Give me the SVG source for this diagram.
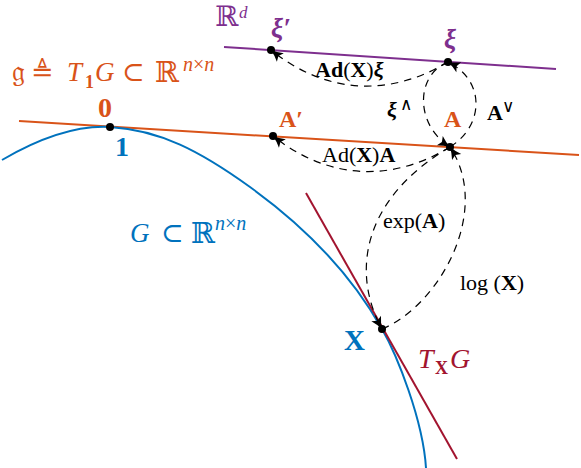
<svg xmlns="http://www.w3.org/2000/svg" width="581" height="468" viewBox="0 0 581 468">
<style>
text{font-family:"Liberation Serif","DejaVu Serif",serif;}
.lbl{font-size:22px;fill:#000;}
.b{font-weight:bold;}
.i{font-style:italic;}
.bi{font-weight:bold;font-style:italic;}
.dash{fill:none;stroke:#000;stroke-width:1.2;stroke-dasharray:7.5 6;marker-end:url(#arr);}
.dot{fill:#000;}
.orange{fill:#D95319;}
.blue{fill:#0072BD;}
.purple{fill:#7E2F8E;}
.red{fill:#A2142F;}
</style>
<defs>
<marker id="arr" markerUnits="userSpaceOnUse" markerWidth="16" markerHeight="14" viewBox="-14 -7 16 14" refX="0" refY="0" orient="auto" overflow="visible">
<path d="M0,0 Q-6,-1.8 -12,-5.5 L-9.5,0 L-12,5.5 Q-6,1.8 0,0 Z" fill="#000"/>
</marker>
</defs>
<rect width="581" height="468" fill="#fff"/>
<g id="spaces">
<line x1="224" y1="47" x2="556" y2="69" stroke="#7E2F8E" stroke-width="2"/>
<line x1="19" y1="121" x2="579" y2="155" stroke="#D95319" stroke-width="2"/>
<path d="M2,160 C38,139 74,125 110,127 C160,130 200,151 250,187 C295,219.4 347,267 382,329 C397,355 423,420 426,468" fill="none" stroke="#0072BD" stroke-width="2"/>
<line x1="306" y1="193" x2="457" y2="459" stroke="#A2142F" stroke-width="2"/>
</g>
<g id="set-labels">
<text class="purple" font-size="28"><tspan x="215" y="26">ℝ</tspan><tspan class="i" x="239" y="18" font-size="17">d</tspan></text>
<text class="orange" font-size="27"><tspan x="12" y="81" font-size="29">𝔤</tspan><tspan x="31" y="81">≜</tspan><tspan class="i" x="67" y="81">T</tspan><tspan class="b" x="85" y="88" font-size="18">1</tspan><tspan class="i" x="95" y="81">G</tspan><tspan x="122" y="81">⊂</tspan><tspan x="155" y="82" font-size="29">ℝ</tspan><tspan x="183" y="71" font-size="20"><tspan class="i">n</tspan>×<tspan class="i">n</tspan></tspan></text>
<text class="blue" font-size="27"><tspan class="i" x="130" y="242">G</tspan><tspan x="161" y="242">⊂</tspan><tspan x="191" y="243" font-size="29">ℝ</tspan><tspan x="215" y="230" font-size="20"><tspan class="i">n</tspan>×<tspan class="i">n</tspan></tspan></text>
<text class="red" font-size="28"><tspan class="i" x="418" y="368">T</tspan><tspan class="b" x="435" y="374" font-size="18">X</tspan><tspan class="i" x="450" y="368">G</tspan></text>
</g>
<g id="connectors">
<path id="e-adxi" class="dash" d="M448,62 C388.6,97.8 325,93.6 271,50"/>
<path id="e-adA" class="dash" d="M450,147 C390.7,183.2 327.3,179.2 273,136"/>
<path id="e-hat" class="dash" d="M448,62 C415,75 415,125 450,147"/>
<path id="e-vee" class="dash" d="M450,147 C485,125 485,80 448,62"/>
<path id="e-exp" class="dash" d="M450,147 C360,200 352,275 382,329"/>
<path id="e-log" class="dash" d="M382,329 C440,305 492,210 450,147"/>
</g>
<g id="edge-labels">
<text class="lbl" x="315" y="77"><tspan class="b">Ad</tspan>(<tspan class="b">X</tspan>)<tspan class="bi">ξ</tspan></text>
<text class="lbl" x="322" y="162">Ad(<tspan class="b">X</tspan>)<tspan class="b">A</tspan></text>
<text class="lbl"><tspan class="bi" x="387" y="117">ξ</tspan><tspan x="400" y="110" font-size="17">∧</tspan></text>
<text class="lbl"><tspan class="b" x="487" y="120">A</tspan><tspan x="502" y="112" font-size="17">∨</tspan></text>
<text class="lbl" x="383" y="228">exp(<tspan class="b">A</tspan>)</text>
<text class="lbl" x="460" y="290">log (<tspan class="b">X</tspan>)</text>
</g>
<g id="node-xi-prime">
<circle class="dot" cx="271" cy="50" r="4"/>
<text class="purple bi" x="271" y="37" font-size="27">ξ′</text>
</g>
<g id="node-xi">
<circle class="dot" cx="448" cy="62" r="4"/>
<text class="purple bi" x="444" y="48" font-size="27">ξ</text>
</g>
<g id="node-identity">
<circle class="dot" cx="110" cy="127" r="4"/>
<text class="orange b" x="105" y="117" font-size="28" text-anchor="middle">0</text>
<text class="blue b" x="122" y="156" font-size="28" text-anchor="middle">1</text>
</g>
<g id="node-A-prime">
<circle class="dot" cx="273" cy="136" r="4"/>
<text class="orange b" x="279" y="127" font-size="24">A′</text>
</g>
<g id="node-A">
<circle class="dot" cx="450" cy="147" r="4"/>
<text class="orange b" x="444" y="127" font-size="24">A</text>
</g>
<g id="node-X">
<circle class="dot" cx="382" cy="329" r="4"/>
<text class="blue b" x="344" y="350" font-size="29">X</text>
</g>
</svg>
